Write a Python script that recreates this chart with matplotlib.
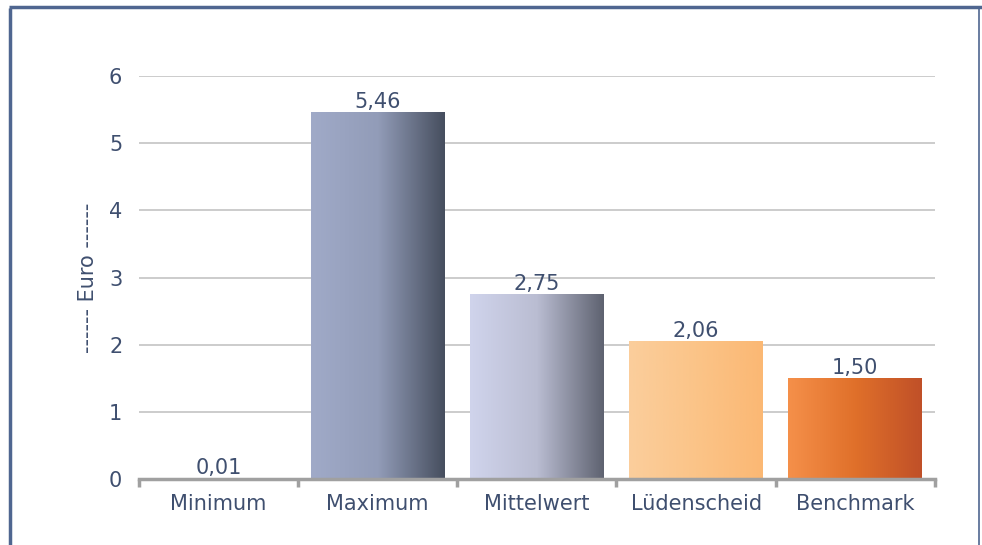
import numpy as np
import matplotlib.pyplot as plt
from matplotlib.colors import LinearSegmentedColormap
from matplotlib.lines import Line2D

categories = ['Minimum', 'Maximum', 'Mittelwert', 'Lüdenscheid', 'Benchmark']
values = [0.01, 5.46, 2.75, 2.06, 1.50]
value_labels = ['0,01', '5,46', '2,75', '2,06', '1,50']
y_ticks = [0, 1, 2, 3, 4, 5, 6]

# left-to-right gradient stops for each bar
gradients = [
    ['#A0AAC8', '#929CB8', '#464E5E'],
    ['#A0AAC8', '#929CB8', '#464E5E'],
    ['#D0D4EC', '#BABDD2', '#5E6270'],
    ['#FBCE9C', '#FBC488', '#FBB874'],
    ['#F5904A', '#E0702A', '#C05028'],
]

text_col = '#3F4F6F'
plt.rcParams['font.family'] = ['DejaVu Sans']

fig = plt.figure(figsize=(9.82, 5.45), dpi=100)
ax = fig.add_axes([0.1415, 0.121, 0.8105, 0.7394])

x = np.arange(len(categories))
bars = ax.bar(x, values, width=0.84, color='none', edgecolor='none', zorder=3)

# gradient fill clipped to each bar
for bar, stops in zip(bars, gradients):
    cmap = LinearSegmentedColormap.from_list('g', stops)
    grad = np.linspace(0, 1, 256).reshape(1, -1)
    x0, y0 = bar.get_x(), bar.get_y()
    w, h = bar.get_width(), bar.get_height()
    im = ax.imshow(grad, cmap=cmap, aspect='auto', extent=[x0, x0 + w, y0, y0 + h],
                   zorder=3, interpolation='bicubic')
    im.set_clip_path(bar)

for xi, v, lab in zip(x, values, value_labels):
    ax.annotate(lab, (xi, v), xytext=(0, 3), textcoords='offset points',
                ha='center', va='baseline', fontsize=15, color=text_col, zorder=4)

ax.set_xlim(-0.5, len(categories) - 0.5)
ax.set_ylim(0, 6)
ax.set_yticks(y_ticks)
ax.set_yticklabels([str(t) for t in y_ticks])
ax.set_xticks(x)
ax.set_xticklabels(categories)
ax.yaxis.grid(True, color='#BFBFBF', lw=1.1, zorder=0)
ax.set_axisbelow(True)

for s in ['left', 'right', 'top']:
    ax.spines[s].set_visible(False)
ax.spines['bottom'].set_color('#A0A0A0')
ax.spines['bottom'].set_linewidth(2.5)
ax.spines['bottom'].set_zorder(5)

ax.tick_params(axis='y', length=0, pad=12, labelsize=15, labelcolor=text_col)
ax.tick_params(axis='x', which='major', length=0, pad=11, labelsize=15, labelcolor=text_col)
ax.set_xticks(np.arange(len(categories) + 1) - 0.5, minor=True)
ax.tick_params(axis='x', which='minor', length=6, width=2.5, color='#A0A0A0', direction='out')

ax.set_ylabel('------ Euro ------', fontsize=15, color=text_col, labelpad=8)

# outer frame
frame_col = '#4F6690'
fig.add_artist(Line2D([9.5 / 982, 9.5 / 982], [0, 1 - 8 / 545], color=frame_col, lw=2.5,
                      transform=fig.transFigure, solid_capstyle='butt'))
fig.add_artist(Line2D([8.5 / 982, 1], [1 - 6.5 / 545, 1 - 6.5 / 545], color=frame_col, lw=2.5,
                      transform=fig.transFigure, solid_capstyle='butt'))
fig.add_artist(Line2D([978.5 / 982, 978.5 / 982], [0, 1 - 8 / 545], color=frame_col, lw=1.2,
                      transform=fig.transFigure, solid_capstyle='butt'))

fig.savefig('out.png', dpi=100)
